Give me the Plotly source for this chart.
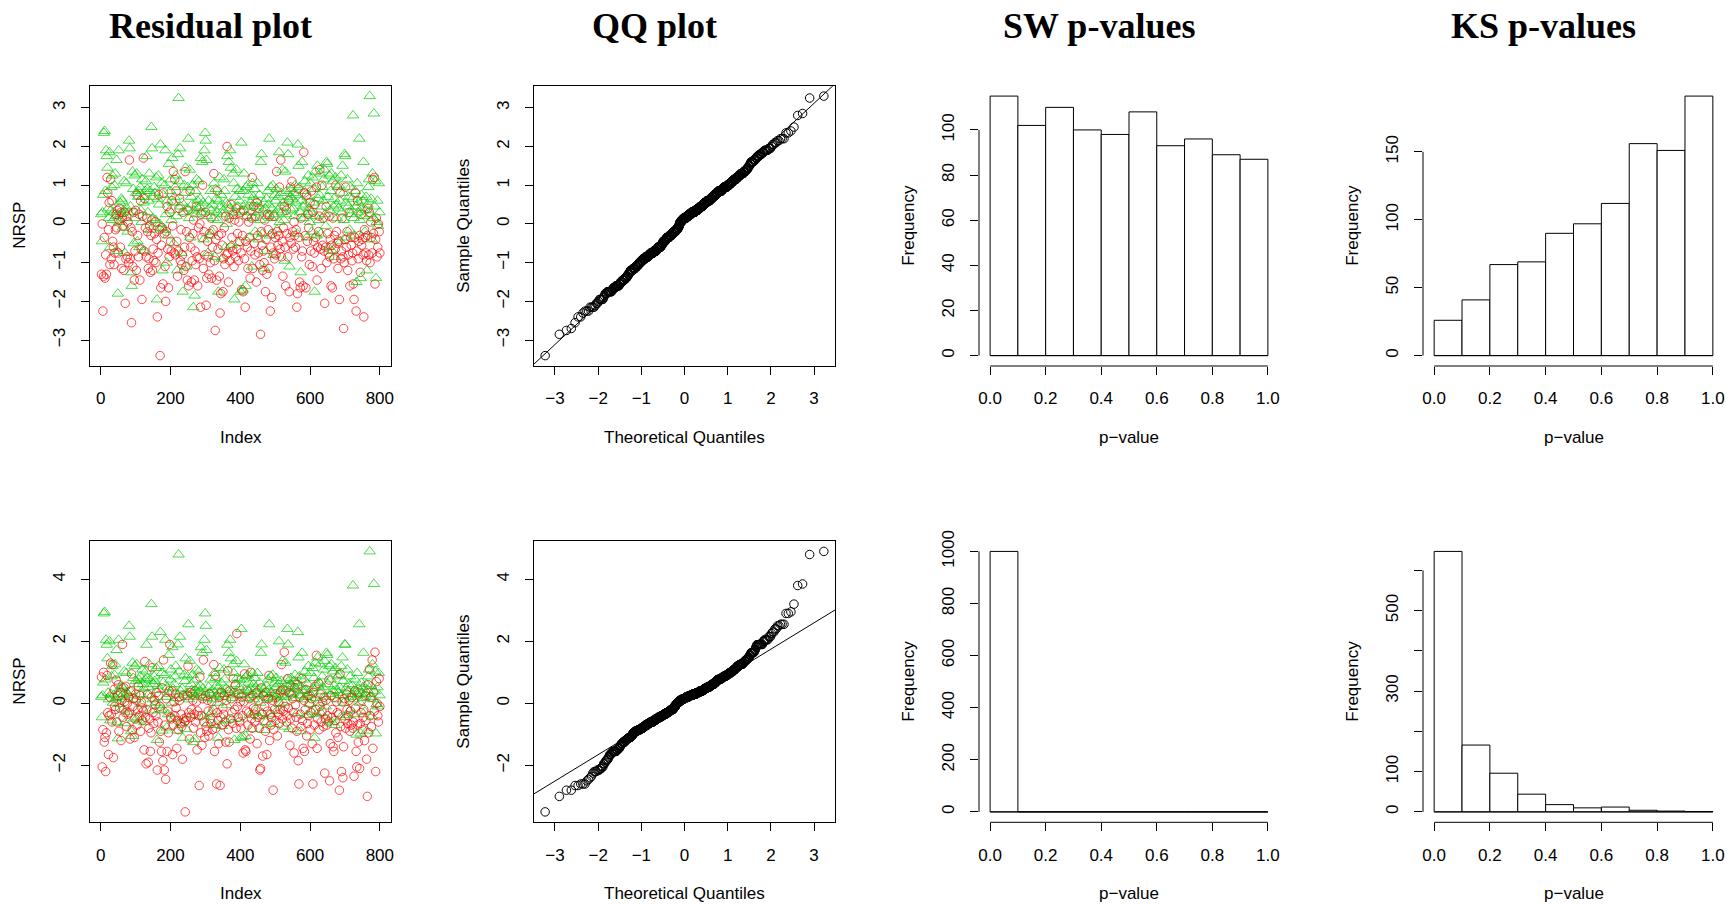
import plotly.graph_objects as go
from statistics import NormalDist
import numpy as np

W, H = 1726, 904

# ---------------- data ----------------
# Residuals (NRSP) of the two groups, in index order (green = odd index, red = even index)
top_green = [
    0.25, -0.45, 0.30, 0.75, 2.35, 2.40, 0.85, 1.90, 1.75, 1.45, 0.40, 0.15, 1.85, -0.60, 0.35, 0.95, 1.25, 0.10, 0.30, 1.00,
    1.30, 0.20, 1.65, -0.70, -1.80, 1.90, 0.05, 0.55, 0.25, 0.65, 0.60, -0.10, 0.35, 1.10, -0.75, 0.15, 1.05, 0.40, -0.20, 0.30,
    2.15, 1.95, 0.45, -1.25, -1.60, 1.35, 0.90, -0.50, 1.25, 0.15, 0.80, 1.30, -0.45, 0.70, 0.85, -0.60, 0.95, 0.35, 0.05, 1.15,
    0.70, 0.55, -0.70, 0.85, 1.10, 1.75, 0.90, 0.30, 0.60, 1.30, 0.85, -0.15, 2.50, 1.95, 0.15, 0.70, 0.95, 0.80, 0.10, 1.20,
    -1.95, 0.65, 1.25, 0.50, 0.00, 2.05, -0.10, 1.05, -1.20, 0.75, -0.15, 1.00, 1.90, 0.25, -1.00, 0.60, -0.30, 1.55, 0.35, 0.85,
    1.15, 0.10, 1.70, 0.55, -0.50, 0.70, 0.95, 1.25, 0.20, -1.20, 1.80, 3.25, 1.10, 1.95, 0.45, -0.75, 0.55, -1.75, 0.30, 1.00,
    0.80, 1.45, -1.10, 0.40, 0.95, 2.20, 0.15, 1.40, -0.35, 0.70, 0.50, 1.00, -2.15, 0.35, -1.85, 0.85, 0.25, 1.15, 0.60, 0.40,
    1.10, 0.45, 0.65, 1.70, 0.30, 1.60, 0.55, -0.40, 1.90, 2.35, 2.15, 1.65, 0.20, -0.75, 0.60, 0.40, -0.30, 0.85, 0.35, -0.20,
    0.50, 0.15, 1.05, -0.85, 0.90, 0.65, 0.30, 0.10, -1.75, 0.60, 1.20, 0.45, 0.75, -0.90, 0.25, 0.35, 1.15, 0.85, -0.60, 0.55,
    0.00, 1.75, 0.50, 1.60, 0.40, 1.90, 1.45, -0.55, 0.20, 1.30, 1.05, -1.95, 0.70, 0.30, 1.40, 0.90, 0.45, -0.50, 0.60, 0.85,
    -1.75, 2.10, 0.35, -1.70, 0.85, 1.30, 0.50, -1.60, 0.95, 0.20, 1.00, 0.75, 0.45, -0.35, 0.55, 0.30, -1.10, 1.05, 0.70, 0.15,
    0.90, -0.20, 0.60, 0.45, 1.05, 0.30, -0.40, 0.75, 0.10, 1.60, 1.80, -0.25, 0.35, 0.55, -1.15, 0.40, -0.70, 0.65, 0.20, 0.85,
    0.50, 2.20, -0.30, 0.95, 0.15, 0.40, 1.00, -0.80, 0.25, 0.75, 0.60, 0.90, -0.15, 0.35, 0.70, 1.85, 0.05, 0.45, 0.80, 0.30,
    1.40, 0.55, 0.10, -0.95, 1.35, 0.25, 0.85, 2.10, 1.80, 0.60, -1.10, 0.70, 0.90, 0.35, 0.65, 0.40, 0.80, 0.20, 1.00, 0.55,
    0.75, -0.25, 2.05, 1.50, 0.95, 0.30, -1.25, 0.60, 1.60, 0.45, 0.15, 0.85, 1.10, 0.50, 0.25, -0.35, 0.70, 1.25, 0.40, 0.05,
    1.05, 0.30, -0.20, 1.20, 0.55, 0.90, -1.75, 1.35, 0.20, -0.30, 1.50, 0.65, 0.10, 0.75, 1.30, -0.25, 0.45, 0.95, 0.60, 1.15,
    1.40, 0.25, -0.05, 1.60, 1.55, 0.70, -0.60, 1.25, 0.35, 0.85, 1.30, -0.70, 1.10, 0.45, 0.65, -0.85, 1.20, 0.50, 0.15, 0.95,
    0.40, 1.00, 0.60, -0.45, 1.25, 0.30, 1.50, 0.80, 0.10, 1.80, 1.75, 0.55, -0.35, 1.15, 0.45, 0.70, -0.15, 0.95, 0.25, 0.35,
    0.65, 2.80, 0.15, -0.30, 0.85, 0.45, -1.50, 1.05, 0.30, 0.55, 2.20, 0.10, -1.40, 0.75, 0.40, 0.60, 1.60, 0.20, -0.20, 0.35,
    0.70, -1.20, 0.50, 0.95, 1.15, 3.30, 0.25, 0.65, -0.40, 1.30, 0.15, 2.85, 0.45, 1.10, -1.40, 0.05, 0.60, -0.05, 1.05, 0.30,
]
top_red = [
    -1.30, 0.00, -2.25, -1.35, -0.35, -1.40, -0.80, -1.30, 1.20, 0.80, -0.15, 0.55, -1.05, 1.15, -0.90, 0.60, -0.45, -0.60, -1.05, -0.75,
    -0.15, 0.25, -0.10, 0.35, -0.75, 0.10, 0.40, -0.60, 0.30, -1.15, 0.15, -0.05, -1.20, 0.30, -2.05, -0.90, 0.20, -0.85, 0.05, -1.00,
    1.65, -0.90, -0.10, -2.55, -0.20, -1.10, 0.30, -1.45, -0.70, 0.35, -1.20, 0.75, -0.30, -0.85, 0.25, -1.45, 0.60, -0.65, -1.95, 0.20,
    1.70, -0.70, 0.65, -0.10, -0.85, 0.15, -0.20, -1.15, -0.90, -0.05, -1.25, -0.30, 0.10, -1.20, -0.65, -0.95, -0.25, 0.05, -1.00, -0.40,
    -2.40, -0.75, 0.75, -0.15, -3.40, -1.65, -0.55, -0.10, -1.55, 0.80, -0.25, -1.10, -2.00, -0.20, 0.45, -0.65, -1.65, -0.85, 0.30, -0.45,
    -0.70, 0.60, -0.05, 1.35, -0.75, 1.15, -0.80, 0.85, -0.45, -1.35, -0.70, 0.40, 0.65, -0.95, -0.15, -1.05, -0.80, 0.30, -1.20, -0.60,
    1.35, -1.10, -0.20, -1.45, 0.35, -1.60, -0.35, 0.85, -0.60, -1.50, -0.95, -0.25, 0.10, -1.45, -0.70, -1.05, 0.45, -0.85, -1.60, -0.10,
    -0.90, 0.00, -2.15, 0.25, -0.35, 1.00, -1.15, -0.20, -0.80, 0.30, -2.10, -1.40, -0.45, -0.85, -1.30, -0.25, -1.00, 0.15, -1.40, -0.60,
    -0.15, 1.30, -0.95, -2.75, -0.40, -1.45, 0.85, -0.65, -0.30, -1.35, -2.30, -1.80, -0.25, -0.55, -1.75, -0.90, -0.10, -1.05, 0.20, -0.80,
    2.00, -0.75, -1.50, 0.15, -0.95, -0.60, 0.50, -0.35, -0.70, 0.25, -1.10, 0.10, -0.85, 0.40, -0.65, -0.25, -0.95, 0.05, -0.45, 0.30,
    -0.75, -1.70, -0.30, -1.75, 0.35, -0.90, -2.15, -0.45, 0.20, -0.60, -1.15, 0.05, -0.35, -1.40, -0.70, 0.15, 1.20, -1.15, 0.45, -0.50,
    -0.80, 0.20, -1.50, 0.55, -0.30, -0.75, 0.40, -1.05, -2.85, -0.20, -0.55, -1.20, -0.70, -1.00, 0.10, -1.75, -0.40, -1.30, 0.25, -0.15,
    -1.15, 0.20, -2.25, -0.60, -1.90, -0.25, -0.75, 0.20, -0.90, -0.35, -0.80, 1.35, -0.20, -0.55, -0.30, 0.95, -0.65, 1.65, -0.85, -0.45,
    -1.35, -0.10, 0.45, -0.60, -1.60, 0.35, -0.25, -0.85, 0.60, -1.75, -0.35, 0.95, -0.50, 1.10, -0.20, -0.65, 0.05, -0.30, -0.60, -0.15,
    -2.15, -1.80, 0.90, -0.35, -1.50, -1.65, 0.15, -0.85, -0.70, -1.60, 1.85, 0.80, -0.30, -1.65, 0.75, -0.45, 0.25, -0.10, -1.05, 0.55,
    -0.70, 0.85, -1.10, 0.30, -0.45, -0.75, 0.50, -0.35, 0.95, -1.45, -0.60, -0.20, 0.20, 1.40, -0.65, -1.15, 1.00, -0.55, 0.15, -0.70,
    -2.05, -0.60, 0.45, -1.00, -0.25, -0.75, 0.20, -0.85, -0.40, -1.60, -0.55, -1.65, 0.15, -0.90, -0.30, -0.65, 1.00, -0.20, -0.50, -1.15,
    -0.45, -1.95, 0.80, -0.90, -0.70, 0.15, -0.85, -2.70, -1.00, -0.40, 0.95, -0.60, -0.20, -1.20, -0.80, 0.30, -1.60, -0.35, -0.55, -0.95,
    -0.75, -1.55, -1.95, -0.35, 0.80, -2.25, -0.70, 0.60, -0.90, -0.45, -0.30, -1.25, 0.25, -0.55, -0.40, -0.80, -2.40, -0.15, -0.35, -0.75,
    -0.95, -0.30, 0.40, -0.80, 0.30, -1.00, 0.05, -0.35, -0.75, 1.15, -0.25, 1.20, -1.55, -0.40, 0.15, -0.85, -0.60, 0.00, -0.20, -0.75,
]
bottom_green = [
    0.21, -0.45, 0.26, 0.67, 2.90, 2.95, 0.77, 2.05, 1.89, 1.45, 0.34, 0.13, 2.00, -0.55, 0.30, 0.87, 1.20, 0.02, 0.26, 0.92,
    1.26, 0.17, 1.72, -0.61, -1.13, 2.05, -0.02, 0.48, 0.21, 0.57, 0.52, -0.20, 0.30, 1.03, -0.64, 0.13, 0.98, 0.34, -0.27, 0.26,
    2.50, 2.15, 0.39, -0.90, -1.05, 1.31, 0.82, -0.49, 1.20, 0.13, 0.72, 1.26, -0.45, 0.62, 0.77, -0.55, 0.87, 0.30, -0.02, 1.09,
    0.62, 0.48, -0.61, 0.77, 1.03, 1.89, 0.82, 0.26, 0.52, 1.26, 0.77, -0.23, 3.20, 2.15, 0.13, 0.62, 0.87, 0.72, 0.02, 1.14,
    -1.18, 0.57, 1.20, 0.43, -0.06, 2.30, -0.20, 0.98, -0.88, 0.67, -0.23, 0.92, 2.05, 0.21, -0.78, 0.52, -0.35, 1.56, 0.30, 0.77,
    1.09, 0.02, 1.81, 0.48, -0.49, 0.62, 0.87, 1.20, 0.17, -0.88, 1.90, 4.80, 1.03, 2.15, 0.39, -0.64, 0.48, -1.11, 0.26, 0.92,
    0.72, 1.45, -0.83, 0.34, 0.87, 2.55, 0.13, 1.37, -0.38, 0.62, 0.43, 0.92, -1.25, 0.30, -1.15, 0.77, 0.21, 1.09, 0.52, 0.34,
    1.03, 0.39, 0.57, 1.81, 0.26, 1.63, 0.48, -0.42, 2.05, 2.90, 2.50, 1.72, 0.17, -0.64, 0.52, 0.34, -0.35, 0.77, 0.30, -0.27,
    0.43, 0.13, 0.98, -0.70, 0.82, 0.57, 0.26, 0.02, -1.11, 0.52, 1.14, 0.39, 0.67, -0.73, 0.21, 0.30, 1.09, 0.77, -0.55, 0.48,
    -0.06, 1.89, 0.43, 1.63, 0.34, 2.05, 1.45, -0.52, 0.17, 1.26, 0.98, -1.18, 0.62, 0.26, 1.37, 0.82, 0.39, -0.49, 0.52, 0.77,
    -1.11, 2.40, 0.30, -1.09, 0.77, 1.26, 0.43, -1.05, 0.87, 0.17, 0.92, 0.67, 0.39, -0.38, 0.48, 0.26, -0.83, 0.98, 0.62, 0.13,
    0.82, -0.27, 0.52, 0.39, 0.98, 0.26, -0.42, 0.67, 0.02, 1.63, 1.90, -0.31, 0.30, 0.48, -0.86, 0.34, -0.61, 0.57, 0.17, 0.77,
    0.43, 2.55, -0.35, 0.87, 0.13, 0.34, 0.92, -0.67, 0.21, 0.67, 0.52, 0.82, -0.23, 0.30, 0.62, 2.00, -0.02, 0.39, 0.72, 0.26,
    1.37, 0.48, 0.02, -0.75, 1.31, 0.21, 0.77, 2.40, 1.90, 0.52, -0.83, 0.62, 0.82, 0.30, 0.57, 0.34, 0.72, 0.17, 0.92, 0.48,
    0.67, -0.31, 2.30, 1.48, 0.87, 0.26, -0.90, 0.52, 1.63, 0.39, 0.13, 0.77, 1.03, 0.43, 0.21, -0.38, 0.62, 1.20, 0.34, -0.02,
    0.98, 0.26, -0.27, 1.14, 0.48, 0.82, -1.11, 1.31, 0.17, -0.35, 1.48, 0.57, 0.02, 0.67, 1.26, -0.31, 0.39, 0.87, 0.52, 1.09,
    1.37, 0.21, -0.10, 1.63, 1.56, 0.62, -0.55, 1.20, 0.30, 0.77, 1.26, -0.61, 1.03, 0.39, 0.57, -0.70, 1.14, 0.43, 0.13, 0.87,
    0.34, 0.92, 0.52, -0.45, 1.20, 0.26, 1.48, 0.72, 0.02, 1.90, 1.89, 0.48, -0.38, 1.09, 0.39, 0.62, -0.23, 0.87, 0.21, 0.30,
    0.57, 3.80, 0.13, -0.35, 0.77, 0.39, -1.01, 0.98, 0.26, 0.48, 2.55, 0.02, -0.97, 0.67, 0.34, 0.52, 1.63, 0.17, -0.27, 0.30,
    0.62, -0.88, 0.43, 0.87, 1.09, 4.90, 0.21, 0.57, -0.42, 1.26, 0.13, 3.85, 0.39, 1.03, -0.97, -0.02, 0.52, -0.10, 0.98, 0.26,
]
bottom_red = [
    0.85, -2.05, -0.85, 1.00, -1.25, -1.10, -2.20, -0.95, 0.90, -0.30, -1.65, -0.40, 0.20, 1.30, -0.35, -0.60, 1.25, -1.75, 0.45, -0.10,
    -0.20, 0.75, -0.60, 0.25, 0.60, -0.90, -0.15, 0.35, -1.20, 0.10, 1.90, -0.45, 0.50, 0.05, -0.30, 0.55, -0.75, 0.00, -0.35, 0.20,
    -0.30, -1.15, 0.40, 0.95, -0.85, -0.10, 0.15, -1.10, -0.50, 0.30, 0.10, -0.70, -0.20, 0.55, -0.40, 0.25, -0.90, 0.05, -0.15, -0.55,
    -0.25, -1.50, 1.35, -0.45, -1.95, -0.20, 0.30, -1.90, -0.80, -0.50, -1.55, -0.95, 0.20, 1.15, -0.30, -0.65, 0.10, -0.05, -0.40, 0.35,
    -2.15, -0.60, 0.25, -1.25, -0.10, -0.90, -1.55, 0.50, -1.85, 1.40, -2.15, -0.70, -2.45, 0.15, -1.55, -0.25, -0.95, 0.40, 1.90, -0.45,
    -0.50, 0.40, -1.65, -0.70, 0.05, -0.40, 0.30, -0.15, -1.45, -0.55, -0.85, 0.20, 0.10, -0.65, -0.35, -0.75, -1.80, 0.25, -0.50, -0.60,
    -3.50, -0.55, -0.45, 0.25, 1.20, -0.30, -1.15, 0.35, -0.45, -0.20, 0.30, 0.10, -0.80, -0.35, 0.40, -0.60, 0.05, -1.50, -0.25, -0.40,
    -2.65, 0.85, -0.95, -0.40, -1.35, 0.15, 1.40, -0.60, -1.10, 0.25, -0.75, -0.90, 0.10, -0.25, -1.05, 0.30, -0.50, -0.65, 0.05, -0.85,
    -0.20, 1.25, -1.55, 0.90, -0.80, -2.60, -0.30, -0.55, -1.30, 0.20, -2.65, -0.45, 0.35, -0.70, -0.15, -0.35, 0.25, -0.60, -1.25, 0.10,
    -1.95, 1.05, -0.85, -1.25, 0.40, -0.50, 0.15, -0.30, -0.65, 0.80, 0.35, -0.20, 0.60, -0.80, 2.25, -0.10, -0.45, 0.30, -0.60, 0.05,
    -0.80, 0.20, -0.40, -1.60, 0.05, 0.95, -1.50, -1.55, -0.25, 0.40, -0.70, -0.30, 0.15, -1.15, 1.00, -0.50, -0.80, 0.25, -0.15, -0.35,
    -0.60, -0.20, 0.35, -1.30, -0.45, 0.10, -0.80, -2.15, -2.10, 0.50, -0.35, -1.70, 0.25, -0.55, -0.10, -0.90, 0.35, -1.65, -0.25, 0.15,
    0.90, -1.20, -0.35, -0.70, -0.45, 0.10, -2.80, -0.85, -0.20, 0.30, -0.55, 0.20, -1.05, -0.35, 0.05, -0.65, -0.20, 0.40, 1.25, -0.50,
    0.45, -0.25, 1.65, -0.10, 0.40, -0.60, -0.40, 0.80, -0.15, 0.35, -1.35, -0.50, 0.30, -0.80, 0.15, -0.30, -1.60, 0.50, -0.05, -0.45,
    -0.90, 0.60, -1.85, -2.60, 0.20, -0.35, -0.75, 0.80, -0.55, -1.45, 0.10, -1.55, -0.20, 0.45, -1.05, -0.65, 0.25, -0.40, 0.00, -0.85,
    -0.30, 0.15, -1.30, -2.60, 0.35, -0.70, 0.55, -0.20, 1.55, -1.45, -0.50, 0.65, -0.85, -0.10, 0.30, -0.60, -0.25, 0.05, -0.75, 0.20,
    -2.25, -0.50, 0.10, -0.70, -0.40, -0.60, 0.75, -2.50, -1.30, 0.25, -0.45, -0.20, -1.40, -1.55, 0.20, -0.55, -0.95, 0.05, -0.30, -1.10,
    -0.35, -2.80, 0.95, -0.75, -2.20, 0.05, -2.40, -1.40, 0.15, -0.50, -0.80, 0.30, -0.20, -0.65, -0.40, 0.10, -0.90, -0.25, -0.70, 0.20,
    -0.80, -0.60, -2.35, 0.40, -0.15, -1.55, -2.05, -0.70, -1.25, 0.35, -2.10, -0.65, -0.30, 0.10, -0.85, -0.45, -0.20, -1.20, 0.25, -0.55,
    -1.80, -3.00, 0.60, -0.95, 1.10, -0.40, 0.20, -0.75, 1.40, -1.45, 0.35, -0.25, 1.65, -2.20, 0.70, 0.00, -0.40, -0.60, 0.80, -0.10,
]

# Histograms of p-values (10 bins on [0, 1])
bin_edges = [0.0, 0.1, 0.2, 0.3, 0.4, 0.5, 0.6, 0.7, 0.8, 0.9, 1.0]
sw_top_counts = [115, 102, 110, 100, 98, 108, 93, 96, 89, 87]
ks_top_counts = [26, 41, 67, 69, 90, 97, 112, 156, 151, 191]
sw_bottom_counts = [1000, 0, 0, 0, 0, 0, 0, 0, 0, 0]
ks_bottom_counts = [647, 166, 96, 44, 18, 10, 12, 4, 2, 1]

# Titles / labels / ticks
panel_titles = ["Residual plot", "QQ plot", "SW p-values", "KS p-values"]
index_ticks = [0, 200, 400, 600, 800]
qq_x_ticks = [-3, -2, -1, 0, 1, 2, 3]
top_resid_ticks = [-3, -2, -1, 0, 1, 2, 3]
bottom_resid_ticks = [-2, 0, 2, 4]
pval_ticks = [0.0, 0.2, 0.4, 0.6, 0.8, 1.0]
pval_ticktext = ["0.0", "0.2", "0.4", "0.6", "0.8", "1.0"]
sw_top_ticks = [0, 20, 40, 60, 80, 100]
ks_top_ticks = [0, 50, 100, 150]
sw_bottom_ticks = [0, 200, 400, 600, 800, 1000]
ks_bottom_ticks = [0, 100, 200, 300, 400, 500, 600]
ks_bottom_ticktext = ["0", "100", "", "300", "", "500", ""]

GREEN = "#00CD00"
RED = "#FF0000"

# ---------------- layout geometry (pixels) ----------------
col_px = [(90, 391), (534, 835), (979, 1279), (1423, 1724)]
row_px = [(85.7, 366.0), (541.0, 822.3)]
title_cx = [210, 654.5, 1098.5, 1543]
SANS = "Liberation Sans, Arial, sans-serif"
TICKFONT = dict(family=SANS, size=17, color="black")
SERIF = "Liberation Serif, Times New Roman, serif"


def xdom(c):
    a, b = col_px[c]
    return [a / W, b / W]


def ydom(r):
    a, b = row_px[r]
    return [1 - b / H, 1 - a / H]


def ext(lo, hi):
    d = (hi - lo) * 0.04
    return [lo - d, hi + d]


fig = go.Figure()
layout = dict(width=W, height=H, margin=dict(l=0, r=0, t=0, b=0),
              paper_bgcolor="white", plot_bgcolor="white", showlegend=False,
              font=TICKFONT, template="none")
annotations = []
shapes = []

nd = NormalDist()


def axis_common():
    return dict(ticks="outside", ticklen=8, tickwidth=1, tickcolor="black",
                ticklabelstandoff=9,
                showgrid=False, zeroline=False, tickfont=TICKFONT, fixedrange=True)


def add_label(text, cx, cy, angle=0, size=17, family=SANS, bold=False):
    annotations.append(dict(text=("<b>%s</b>" % text) if bold else text, x=cx / W, y=1 - cy / H,
                            xref="paper", yref="paper", showarrow=False, xanchor="center",
                            yanchor="middle", textangle=angle,
                            font=dict(family=family, size=size, color="black")))


for r, (green, red, rticks, sw_counts, ks_counts, sw_ticks, ks_ticks, ks_text) in enumerate([
    (top_green, top_red, top_resid_ticks, sw_top_counts, ks_top_counts, sw_top_ticks, ks_top_ticks, None),
    (bottom_green, bottom_red, bottom_resid_ticks, sw_bottom_counts, ks_bottom_counts, sw_bottom_ticks,
     ks_bottom_ticks, ks_bottom_ticktext),
]):
    # ---- residual plot (interleaved points in index order) ----
    xs, ys, cols, syms, sizes = [], [], [], [], []
    for i in range(len(green)):
        xs += [2 * i + 1, 2 * i + 2]
        ys += [green[i], red[i]]
        cols += [GREEN, RED]
        syms += ["triangle-up-open", "circle-open"]
        sizes += [10, 8.5]
    allv = np.array(ys)
    yr = ext(allv.min(), allv.max())
    k = r * 4 + 1
    fig.add_trace(go.Scatter(x=xs, y=ys, mode="markers", xaxis="x%d" % k, yaxis="y%d" % k,
                             marker=dict(symbol=syms, color=cols, size=sizes,
                                         line=dict(width=1, color=cols)), hoverinfo="skip"))
    layout["xaxis%d" % k] = dict(domain=xdom(0), range=ext(min(xs), max(xs)), tickvals=index_ticks,
                                 anchor="y%d" % k, showline=True, mirror=True, linecolor="black",
                                 linewidth=1, **axis_common())
    layout["yaxis%d" % k] = dict(domain=ydom(r), range=yr, tickvals=rticks, tickangle=-90,
                                 anchor="x%d" % k, showline=True, mirror=True, linecolor="black",
                                 linewidth=1, **axis_common())

    # ---- QQ plot ----
    n = len(allv)
    samp = np.sort(allv)
    theo = np.array([nd.inv_cdf((i + 0.5) / n) for i in range(n)])
    q1, q3 = np.quantile(allv, [0.25, 0.75])
    t1, t3 = nd.inv_cdf(0.25), nd.inv_cdf(0.75)
    slope = (q3 - q1) / (t3 - t1)
    icpt = q1 - slope * t1
    xr = ext(theo.min(), theo.max())
    k = r * 4 + 2
    fig.add_trace(go.Scatter(x=theo, y=samp, mode="markers", xaxis="x%d" % k, yaxis="y%d" % k,
                             marker=dict(symbol="circle-open", color="black", size=8.5,
                                         line=dict(width=1, color="black")), hoverinfo="skip"))
    lx = [xr[0] - 1, xr[1] + 1]
    fig.add_trace(go.Scatter(x=lx, y=[icpt + slope * v for v in lx], mode="lines",
                             xaxis="x%d" % k, yaxis="y%d" % k,
                             line=dict(color="black", width=1), hoverinfo="skip"))
    layout["xaxis%d" % k] = dict(domain=xdom(1), range=xr, tickvals=qq_x_ticks,
                                 anchor="y%d" % k, showline=True, mirror=True, linecolor="black",
                                 linewidth=1, **axis_common())
    layout["yaxis%d" % k] = dict(domain=ydom(r), range=yr, tickvals=rticks, tickangle=-90,
                                 anchor="x%d" % k, showline=True, mirror=True, linecolor="black",
                                 linewidth=1, **axis_common())

    # ---- histograms ----
    for c, counts, yt, ytext in [(2, sw_counts, sw_ticks, None), (3, ks_counts, ks_ticks, ks_text)]:
        k = r * 4 + c + 1
        centers = [(bin_edges[i] + bin_edges[i + 1]) / 2 for i in range(len(counts))]
        widths = [bin_edges[i + 1] - bin_edges[i] for i in range(len(counts))]
        fig.add_trace(go.Scatter(x=[bin_edges[0], bin_edges[-1]], y=[0, 0], mode="lines",
                                 xaxis="x%d" % k, yaxis="y%d" % k,
                                 line=dict(color="black", width=1), hoverinfo="skip"))
        fig.add_trace(go.Bar(x=centers, y=counts, width=widths, xaxis="x%d" % k, yaxis="y%d" % k,
                             marker=dict(color="white", line=dict(color="black", width=1)),
                             hoverinfo="skip"))
        yax = dict(domain=ydom(r), range=ext(0, max(counts)), tickvals=yt, tickangle=-90,
                   anchor="x%d" % k, showline=False, **axis_common())
        if ytext is not None:
            yax["ticktext"] = ytext
        layout["yaxis%d" % k] = yax
        layout["xaxis%d" % k] = dict(domain=xdom(c), range=ext(bin_edges[0], bin_edges[-1]),
                                     tickvals=pval_ticks, ticktext=pval_ticktext,
                                     anchor="y%d" % k, showline=False, **axis_common())
        # R-style axis lines spanning first..last tick
        shapes.append(dict(type="line", xref="x%d" % k, yref="y%d domain" % k,
                           x0=pval_ticks[0], x1=pval_ticks[-1], y0=0, y1=0,
                           line=dict(color="black", width=1)))
        shapes.append(dict(type="line", xref="x%d domain" % k, yref="y%d" % k,
                           x0=0, x1=0, y0=yt[0], y1=yt[-1],
                           line=dict(color="black", width=1)))

    # ---- axis titles ----
    r0, r1 = row_px[r]
    xl_y = r1 + 71
    add_label("Index", sum(col_px[0]) / 2, xl_y)
    add_label("Theoretical Quantiles", sum(col_px[1]) / 2, xl_y)
    add_label("p\u2212value", sum(col_px[2]) / 2, xl_y)
    add_label("p\u2212value", sum(col_px[3]) / 2, xl_y)
    yl_y = (r0 + r1) / 2
    add_label("NRSP", col_px[0][0] - 70, yl_y, angle=-90)
    add_label("Sample Quantiles", col_px[1][0] - 70, yl_y, angle=-90)
    add_label("Frequency", col_px[2][0] - 70, yl_y, angle=-90)
    add_label("Frequency", col_px[3][0] - 70, yl_y, angle=-90)

for c, t in enumerate(panel_titles):
    add_label(t, title_cx[c], 26, size=36, family=SERIF, bold=True)

layout["annotations"] = annotations
layout["shapes"] = shapes
fig.update_layout(**layout)
fig.write_html("out.html")
